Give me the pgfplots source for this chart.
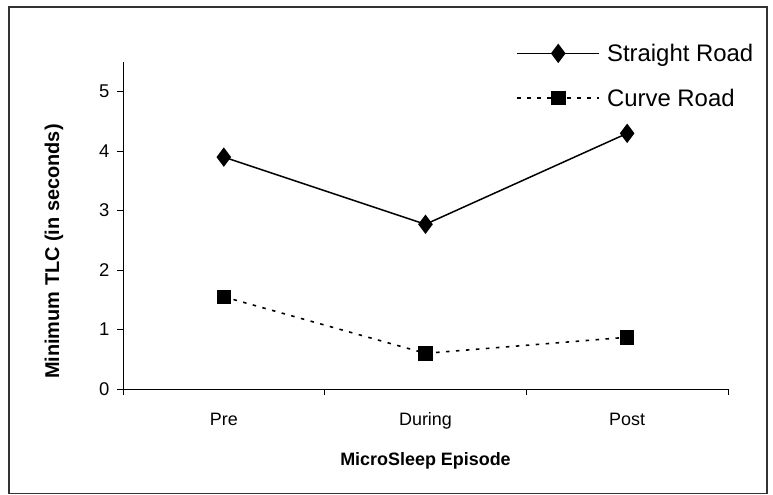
\documentclass[border=0pt]{standalone}
\usepackage{pgfplots}
\pgfplotsset{compat=1.18}
\usepackage{fontspec}
\setmainfont{Liberation Sans}
\begin{document}
\begin{tikzpicture}[x=1bp,y=1bp]
\path[use as bounding box] (0,0) rectangle (773,495);
\draw[line width=1.3bp, black!80] (9,1.5) rectangle (767,488);
\begin{axis}[
  at={(123bp,106bp)}, anchor=south west,
  scale only axis, width=605bp, height=327bp,
  axis x line*=bottom, axis y line*=left,
  axis line style={line width=0.8bp},
  xmin=-0.5, xmax=2.5, ymin=0, ymax=5.5,
  xtick={-0.5,0.5,1.5,2.5}, xticklabels={},
  extra x ticks={0,1,2}, extra x tick labels={Pre,During,Post},
  extra x tick style={major tick length=0pt},
  ytick={0,1,2,3,4,5},
  tick align=outside, major tick length=6bp,
  tick style={line width=0.8bp, black},
  /pgf/number format/assume math mode=true,
  yticklabel style={font=\fontsize{18.5}{20}\selectfont, xshift=-4bp},
  xticklabel style={font=\fontsize{18}{20}\selectfont, text height=13bp, text depth=4bp, yshift=-20bp},
  ylabel={\bfseries Minimum TLC (in seconds)},
  ylabel style={font=\fontsize{20}{22}\selectfont, at={(rel axis cs:-0.114,0.42)}, anchor=center},
  xlabel={\bfseries MicroSleep Episode},
  xlabel style={font=\fontsize{18}{20}\selectfont, at={(rel axis cs:0.5,-0.22)}, anchor=center},
  legend style={at={(rel axis cs:0.65,1.065)}, anchor=north west, draw=none, fill=none,
    font=\fontsize{24}{26}\selectfont, row sep=20bp, column sep=4bp, inner sep=0pt,
    nodes={inner sep=3bp}},
  legend cell align=left,
  legend image code/.code={\draw[mark repeat=2, mark phase=2, #1] plot coordinates {(0bp,0bp) (41bp,0bp) (82bp,0bp)};},
]
\addplot[black, line width=1.5bp, mark=diamond*, mark size=8.5bp, mark options={solid}]
  coordinates {(0,3.9) (1,2.77) (2,4.3)};
\addlegendentry{Straight Road}
\addplot[black, line width=1.6bp, dash pattern=on 3.5bp off 6.5bp, mark=square*, mark size=6.5bp, mark options={solid}]
  coordinates {(0,1.55) (1,0.6) (2,0.87)};
\addlegendentry{Curve Road}
\end{axis}
\end{tikzpicture}
\end{document}
